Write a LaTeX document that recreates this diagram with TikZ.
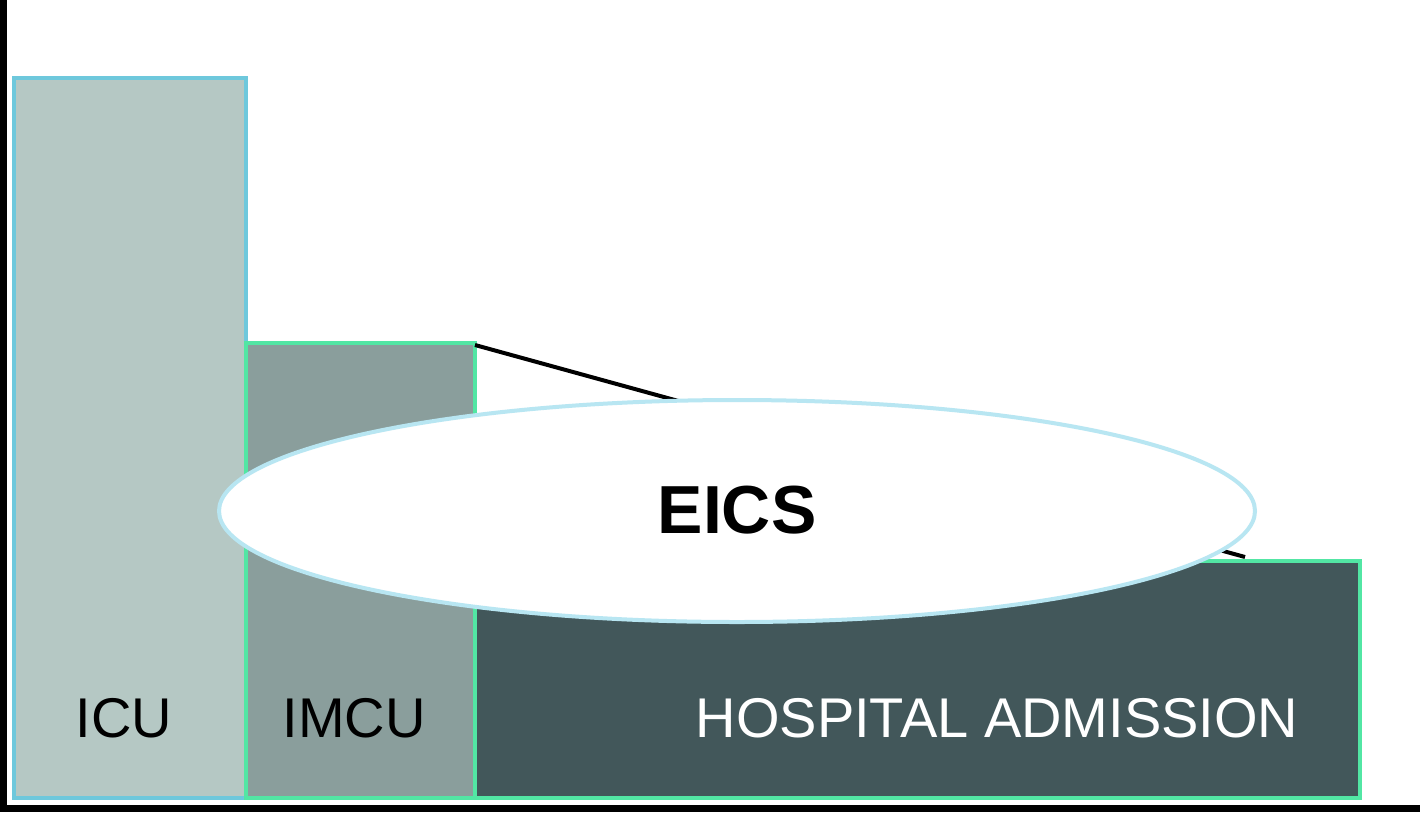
\documentclass[tikz,border=0pt]{standalone}
\usepackage{fontspec}
\setmainfont{Liberation Sans}
\usetikzlibrary{shapes.geometric}
\definecolor{icufill}{HTML}{B5C8C4}
\definecolor{iculine}{HTML}{6EC8DC}
\definecolor{imcufill}{HTML}{8A9E9C}
\definecolor{greenline}{HTML}{52E6A4}
\definecolor{hospfill}{HTML}{42575A}
\definecolor{ellline}{HTML}{B8E6F2}
\begin{document}
\begin{tikzpicture}[x=1pt,y=-1pt,
  bar/.style={line width=4pt},
  lbl/.style={font=\fontsize{56}{60}\selectfont, inner sep=0pt, anchor=base}]
\useasboundingbox (0,0) rectangle (1424,812);
\fill[white] (0,0) rectangle (1424,812);
\fill[black] (0,0) rectangle (7,812);
\fill[black] (0,805) rectangle (1420,812);
\draw[bar, iculine, fill=icufill] (14,78) rectangle (246,798);
\draw[bar, greenline, fill=imcufill] (246,343) rectangle (475,798);
\draw[bar, greenline, fill=hospfill] (475,561) rectangle (1360,798);
\coordinate (a) at (475,345);
\coordinate (b) at (1245,557);
\draw[line width=4pt, black] (a) -- (b);
\node[ellipse, draw=ellline, line width=4pt, fill=white, minimum width=1036pt, minimum height=222pt, inner sep=0pt] (e) at (737,511) {};
\node[font=\fontsize{68}{72}\selectfont\bfseries, inner sep=0pt, anchor=base] (t) at (737,533) {EICS};
\node[lbl] (icu) at (124,737) {ICU};
\node[lbl] (imcu) at (354,737) {IMCU};
\node[lbl, text=white] (hosp) at (997,737) {HOSPITAL ADMISSION};
\end{tikzpicture}
\end{document}
